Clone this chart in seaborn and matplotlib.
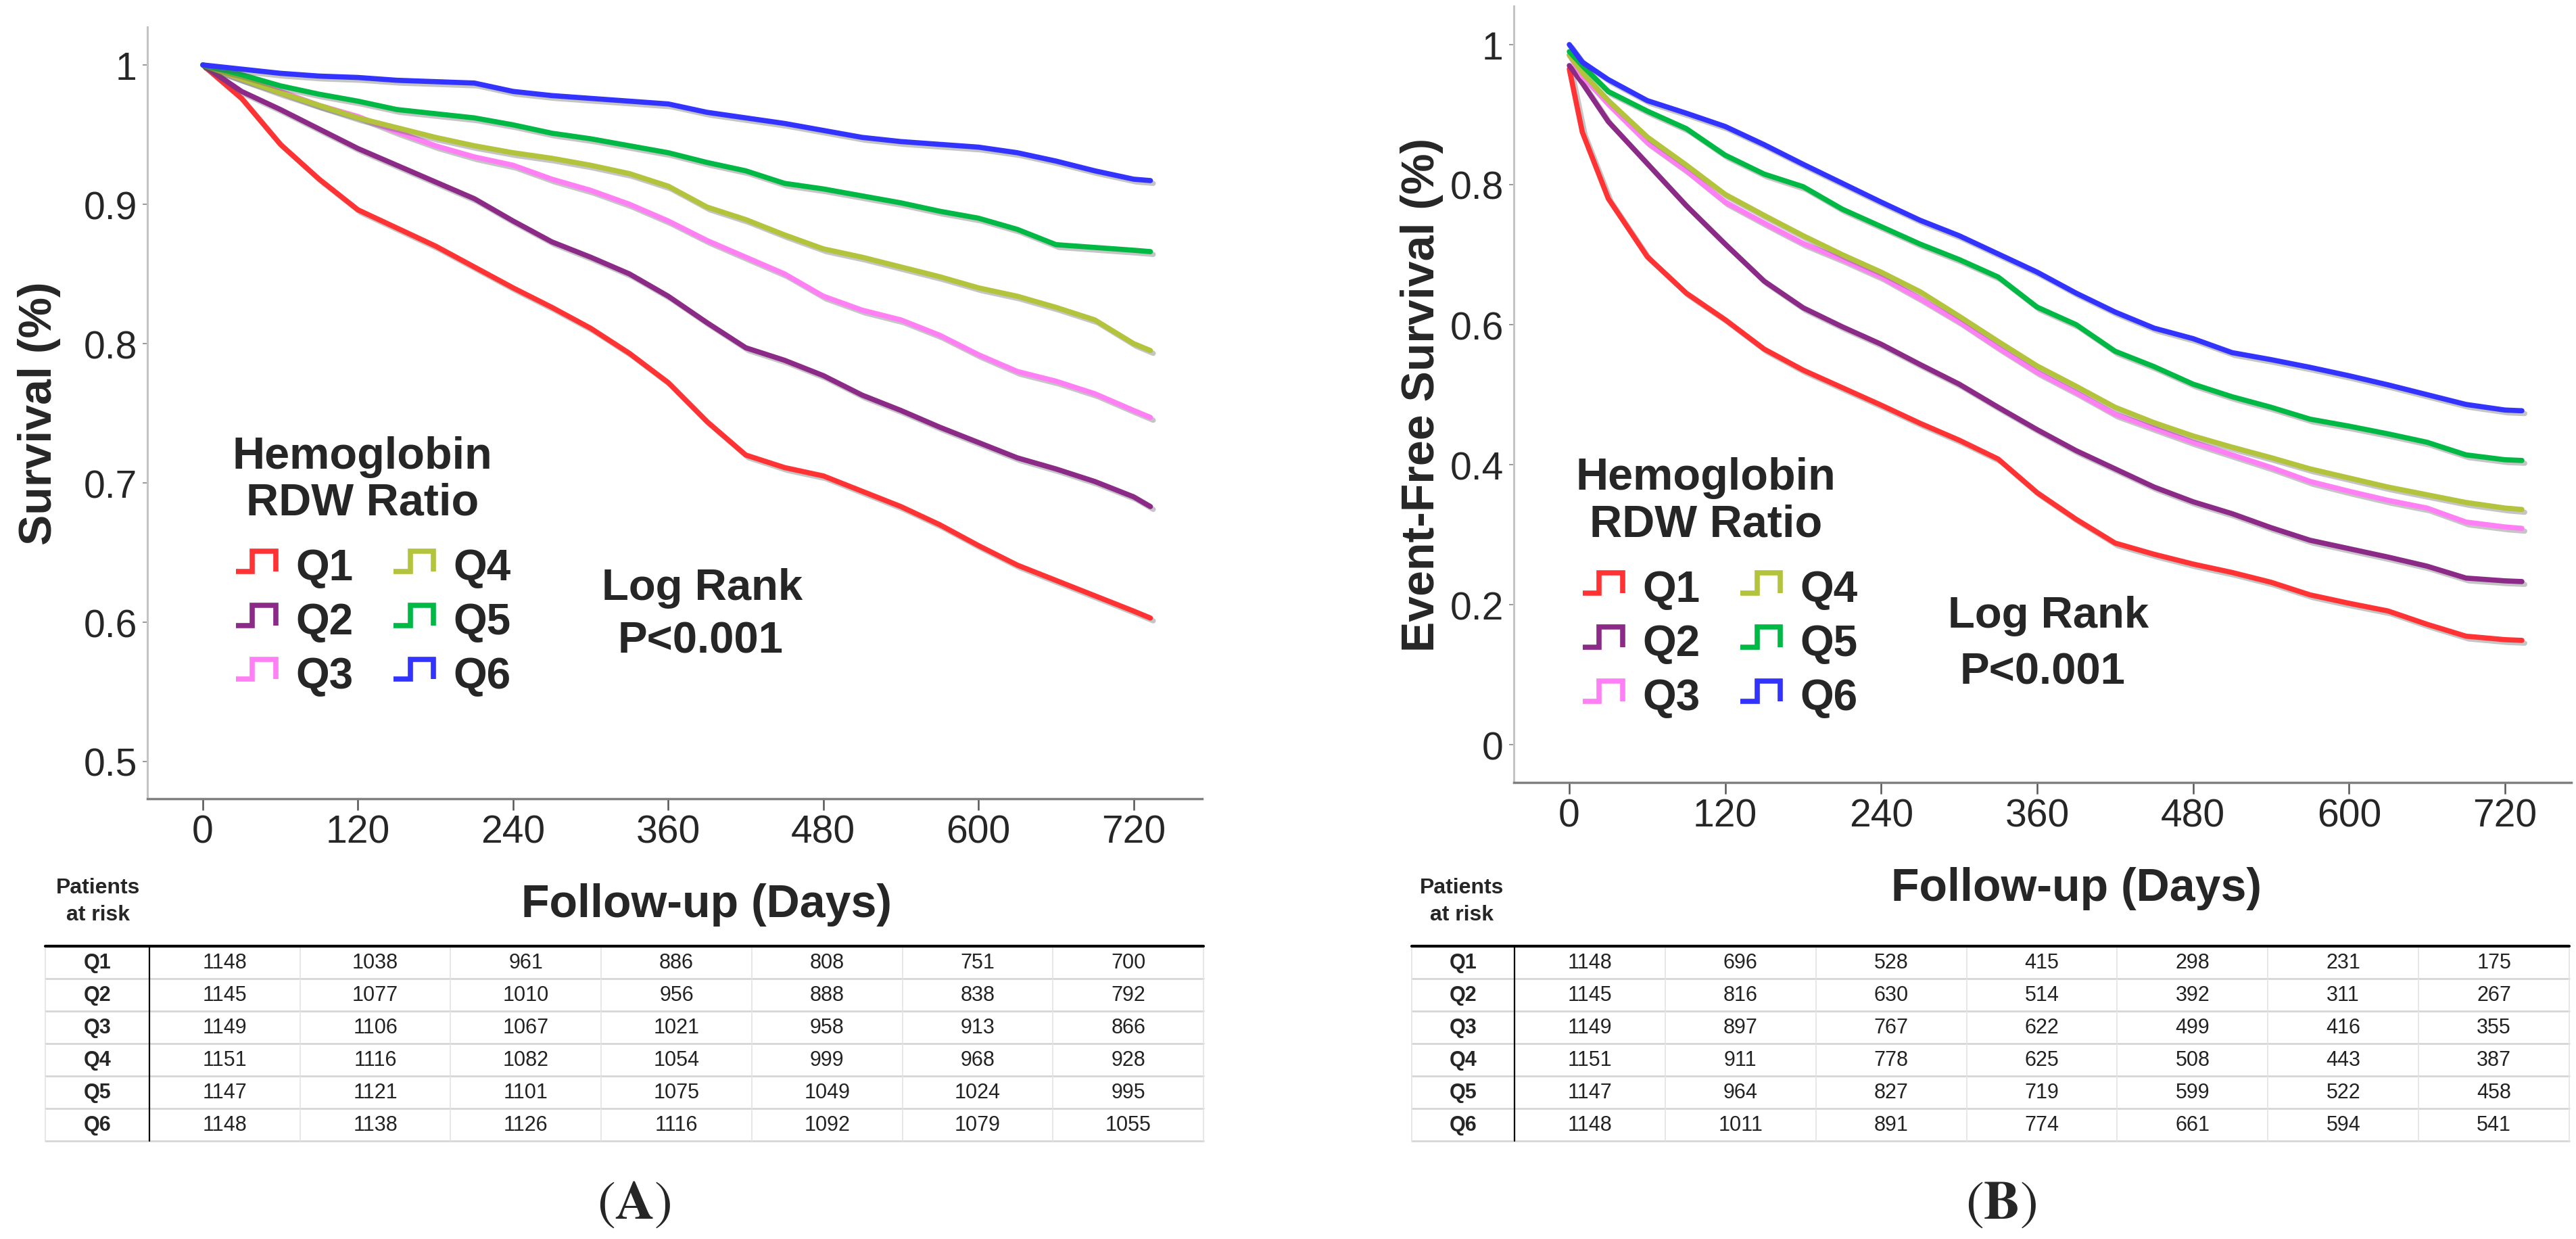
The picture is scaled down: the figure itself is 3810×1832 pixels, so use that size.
import numpy as np
import pandas as pd
import matplotlib
matplotlib.use('Agg')
import matplotlib.pyplot as plt
import matplotlib.patheffects as pe
import seaborn as sns
from matplotlib.lines import Line2D
from matplotlib.legend_handler import HandlerBase

# --- data ---
groups = ['Q1', 'Q2', 'Q3', 'Q4', 'Q5', 'Q6']
colors = ['#ff3333', '#8c2a88', '#ff80f4', '#b3c33b', '#00b844', '#3333ff']
risk_days = [0, 120, 240, 360, 480, 600, 720]

# panel A: overall survival
days_a = [0, 30, 60, 90, 120, 150, 180, 210, 240, 270, 300, 330, 360, 390,
          420, 450, 480, 510, 540, 570, 600, 630, 660, 690, 720, 733]
os_q1 = [1.0, 0.976, 0.943, 0.918, 0.896, 0.883, 0.870, 0.855, 0.840, 0.826, 0.811, 0.793, 0.772,
         0.744, 0.720, 0.711, 0.705, 0.694, 0.683, 0.670, 0.655, 0.641, 0.630, 0.619, 0.608, 0.603]
os_q2 = [1.0, 0.981, 0.968, 0.954, 0.940, 0.928, 0.916, 0.904, 0.888, 0.873, 0.862, 0.850, 0.834,
         0.815, 0.797, 0.788, 0.777, 0.763, 0.752, 0.740, 0.729, 0.718, 0.710, 0.701, 0.690, 0.683]
os_q3 = [1.0, 0.990, 0.981, 0.971, 0.963, 0.952, 0.942, 0.934, 0.928, 0.918, 0.910, 0.900, 0.888,
         0.874, 0.862, 0.850, 0.834, 0.824, 0.817, 0.806, 0.792, 0.780, 0.773, 0.764, 0.752, 0.747]
os_q4 = [1.0, 0.990, 0.980, 0.971, 0.962, 0.955, 0.948, 0.942, 0.937, 0.933, 0.928, 0.922, 0.913,
         0.898, 0.889, 0.878, 0.868, 0.862, 0.855, 0.848, 0.840, 0.834, 0.826, 0.817, 0.800, 0.795]
os_q5 = [1.0, 0.993, 0.985, 0.979, 0.974, 0.968, 0.965, 0.962, 0.957, 0.951, 0.947, 0.942, 0.937,
         0.930, 0.924, 0.915, 0.911, 0.906, 0.901, 0.895, 0.890, 0.882, 0.871, 0.869, 0.867, 0.866]
os_q6 = [1.0, 0.997, 0.994, 0.992, 0.991, 0.989, 0.988, 0.987, 0.981, 0.978, 0.976, 0.974, 0.972,
         0.966, 0.962, 0.958, 0.953, 0.948, 0.945, 0.943, 0.941, 0.937, 0.931, 0.924, 0.918, 0.917]

# panel B: event-free survival
days_b = [0, 10, 30, 60, 90, 120, 150, 180, 210, 240, 270, 300, 330, 360, 390,
          420, 450, 480, 510, 540, 570, 600, 630, 660, 690, 720, 733]
efs_q1 = [0.965, 0.875, 0.78, 0.697, 0.645, 0.607, 0.565, 0.535, 0.510, 0.485, 0.459, 0.435, 0.408, 0.360,
          0.322, 0.288, 0.272, 0.258, 0.246, 0.232, 0.214, 0.202, 0.191, 0.172, 0.155, 0.150, 0.149]
efs_q2 = [0.97, 0.945, 0.89, 0.83, 0.77, 0.715, 0.662, 0.624, 0.597, 0.572, 0.543, 0.515, 0.482, 0.450,
          0.420, 0.394, 0.368, 0.347, 0.330, 0.310, 0.292, 0.280, 0.268, 0.255, 0.238, 0.234, 0.233]
efs_q3 = [0.985, 0.955, 0.915, 0.86, 0.82, 0.775, 0.745, 0.716, 0.693, 0.668, 0.637, 0.604, 0.567, 0.532,
          0.503, 0.472, 0.452, 0.432, 0.414, 0.396, 0.376, 0.362, 0.349, 0.338, 0.318, 0.311, 0.309]
efs_q4 = [0.985, 0.96, 0.92, 0.868, 0.828, 0.786, 0.756, 0.727, 0.700, 0.675, 0.647, 0.612, 0.576, 0.541,
          0.512, 0.482, 0.460, 0.441, 0.425, 0.410, 0.394, 0.381, 0.368, 0.357, 0.346, 0.338, 0.336]
efs_q5 = [0.99, 0.97, 0.933, 0.905, 0.880, 0.842, 0.815, 0.797, 0.765, 0.740, 0.715, 0.693, 0.668, 0.625,
          0.600, 0.562, 0.540, 0.515, 0.497, 0.482, 0.465, 0.455, 0.444, 0.432, 0.414, 0.407, 0.406]
efs_q6 = [1.0, 0.975, 0.950, 0.920, 0.902, 0.883, 0.857, 0.829, 0.802, 0.775, 0.749, 0.727, 0.701, 0.675,
          0.645, 0.618, 0.595, 0.580, 0.560, 0.550, 0.539, 0.527, 0.514, 0.500, 0.486, 0.478, 0.477]

# patients at risk
risk_a = [[1148, 1038, 961, 886, 808, 751, 700],
          [1145, 1077, 1010, 956, 888, 838, 792],
          [1149, 1106, 1067, 1021, 958, 913, 866],
          [1151, 1116, 1082, 1054, 999, 968, 928],
          [1147, 1121, 1101, 1075, 1049, 1024, 995],
          [1148, 1138, 1126, 1116, 1092, 1079, 1055]]
risk_b = [[1148, 696, 528, 415, 298, 231, 175],
          [1145, 816, 630, 514, 392, 311, 267],
          [1149, 897, 767, 622, 499, 416, 355],
          [1151, 911, 778, 625, 508, 443, 387],
          [1147, 964, 827, 719, 599, 522, 458],
          [1148, 1011, 891, 774, 661, 594, 541]]

W, H = 3810, 1833
sns.set_style('ticks')
plt.rcParams['font.family'] = ['Liberation Sans', 'DejaVu Sans']
plt.rcParams['mathtext.fontset'] = 'stix'

fig = plt.figure(figsize=(W / 100, H / 100), dpi=100)


def px_box(left, top, right, bottom):
    return [left / W, 1 - bottom / H, (right - left) / W, (bottom - top) / H]


def ftext(x, y, s, **kw):
    fig.text(x / W, 1 - y / H, s, **kw)


class StepHandler(HandlerBase):
    # little "_|‾|" glyph like the SPSS legend
    def create_artists(self, legend, orig_handle, xdescent, ydescent, width, height, fontsize, trans):
        xs = np.array([0.06, 0.42, 0.42, 0.94, 0.94]) * width - xdescent
        ys = np.array([0.27, 0.27, 0.93, 0.93, 0.27]) * height - ydescent
        line = Line2D(xs, ys, color=orig_handle.get_color(), lw=5.5,
                      solid_joinstyle='miter', solid_capstyle='butt')
        line.set_transform(trans)
        return [line]


def draw_curves(ax, days, curves):
    df = pd.DataFrame({'day': np.tile(days, len(groups)),
                       'surv': np.concatenate(curves),
                       'group': np.repeat(groups, len(days))})
    sns.lineplot(data=df, x='day', y='surv', hue='group', hue_order=groups,
                 palette=colors, linewidth=5.5, errorbar=None, legend=False, ax=ax)
    for line in ax.lines:
        line.set_path_effects([pe.SimpleLineShadow(offset=(3, -3), shadow_color='0.35', alpha=0.35),
                               pe.Normal()])


def style_axes(ax, xlim, ylim, yticks, ylabel, ylab_pos, xlab_pos):
    ax.set_xlim(xlim)
    ax.set_ylim(ylim)
    ax.set_xticks(risk_days)
    ax.set_yticks(yticks)
    ax.set_yticklabels([f'{v:g}' for v in yticks])
    sns.despine(ax=ax)
    ax.spines['left'].set_color('#c4c4c4')
    ax.spines['left'].set_linewidth(2.2)
    ax.spines['bottom'].set_color('#808080')
    ax.spines['bottom'].set_linewidth(2.5)
    ax.tick_params(axis='x', length=12, width=1.8, color='#555555', pad=4, labelsize=41)
    ax.tick_params(axis='y', length=5, width=1.2, color='#888888', pad=6, labelsize=41)
    ax.set_xlabel('Follow-up (Days)', fontsize=49, weight='bold')
    ax.xaxis.set_label_coords(*xlab_pos)
    ax.xaxis.label.set_va('baseline')
    ax.set_ylabel(ylabel, fontsize=49, weight='bold')
    ax.yaxis.set_label_coords(*ylab_pos)
    ax.yaxis.label.set_va('center')


def add_legend(ax, anchor):
    ax.legend(ax.lines[:len(groups)], groups, handler_map={Line2D: StepHandler()},
              ncol=2, loc='upper left', bbox_to_anchor=anchor, frameon=False,
              borderpad=0, borderaxespad=0, handlelength=1.05, handleheight=0.7,
              handletextpad=0.39, columnspacing=0.88, labelspacing=0.31,
              prop={'weight': 'bold', 'size': 46})


def draw_table(box, label_w, rows):
    ax = fig.add_axes(px_box(*box))
    ax.set_xlim(-label_w, len(risk_days))
    ax.set_ylim(len(rows), 0)
    ax.axis('off')
    for i, row in enumerate(rows):
        ax.text(-label_w / 2, i + 0.5, groups[i], ha='center', va='center',
                fontsize=22, weight='bold')
        for j, n in enumerate(row):
            ax.text(j + 0.5, i + 0.5, str(n), ha='center', va='center',
                    fontsize=22, color='#222222')
    for k in range(1, len(rows) + 1):
        ax.axhline(k, color='#d6d6d6', lw=2, clip_on=False)
    for k in range(1, len(risk_days)):
        ax.axvline(k, color='#e3e3e3', lw=1.2, clip_on=False)
    ax.axvline(-label_w, color='#e3e3e3', lw=1.2, clip_on=False)
    ax.axvline(len(risk_days), color='#e3e3e3', lw=1.2, clip_on=False)
    ax.axvline(0, color='black', lw=1.6, clip_on=False)
    ax.axhline(0, color='black', lw=3, clip_on=False)


# ---- panel A ----
ax_a = fig.add_axes(px_box(218, 41, 1778, 1182))
draw_curves(ax_a, days_a, [os_q1, os_q2, os_q3, os_q4, os_q5, os_q6])
style_axes(ax_a, (-42.9, 773), (0.4733, 1.0272), [0.5, 0.6, 0.7, 0.8, 0.9, 1.0],
           'Survival (%)', (-0.1026, 0.5), (0.530, -0.1525))
add_legend(ax_a, (0.0814, 0.3252))
ftext(536, 693, 'Hemoglobin', ha='center', va='baseline', fontsize=48, weight='bold')
ftext(536, 762, 'RDW Ratio', ha='center', va='baseline', fontsize=48, weight='bold')
ftext(1039, 887, 'Log Rank', ha='center', va='baseline', fontsize=47, weight='bold')
ftext(1036, 966, 'P<0.001', ha='center', va='baseline', fontsize=47, weight='bold')
ftext(145, 1321, 'Patients', ha='center', va='baseline', fontsize=23, weight='bold')
ftext(145, 1361, 'at risk', ha='center', va='baseline', fontsize=23, weight='bold')
draw_table((67, 1400, 1780, 1688), 154 / 222.7, risk_a)
ftext(938, 1781, r'$(\mathbf{A})$', ha='center', va='center', fontsize=58)

# ---- panel B ----
ax_b = fig.add_axes(px_box(2239, 10, 3803, 1158))
draw_curves(ax_b, days_b, [efs_q1, efs_q2, efs_q3, efs_q4, efs_q5, efs_q6])
style_axes(ax_b, (-42.7, 771), (-0.054, 1.055), [0, 0.2, 0.4, 0.6, 0.8, 1.0],
           'Event-Free Survival (%)', (-0.087, 0.5), (0.532, -0.1516))
add_legend(ax_b, (0.0627, 0.2744))
ftext(2523, 724, 'Hemoglobin', ha='center', va='baseline', fontsize=48, weight='bold')
ftext(2523, 794, 'RDW Ratio', ha='center', va='baseline', fontsize=48, weight='bold')
ftext(3030, 928, 'Log Rank', ha='center', va='baseline', fontsize=47, weight='bold')
ftext(3021, 1011, 'P<0.001', ha='center', va='baseline', fontsize=47, weight='bold')
ftext(2162, 1321, 'Patients', ha='center', va='baseline', fontsize=23, weight='bold')
ftext(2162, 1361, 'at risk', ha='center', va='baseline', fontsize=23, weight='bold')
draw_table((2088, 1400, 3800, 1688), 152 / 222.9, risk_b)
ftext(2960, 1781, r'$(\mathbf{B})$', ha='center', va='center', fontsize=58)

fig.savefig('out.png', dpi=100, facecolor='white')
